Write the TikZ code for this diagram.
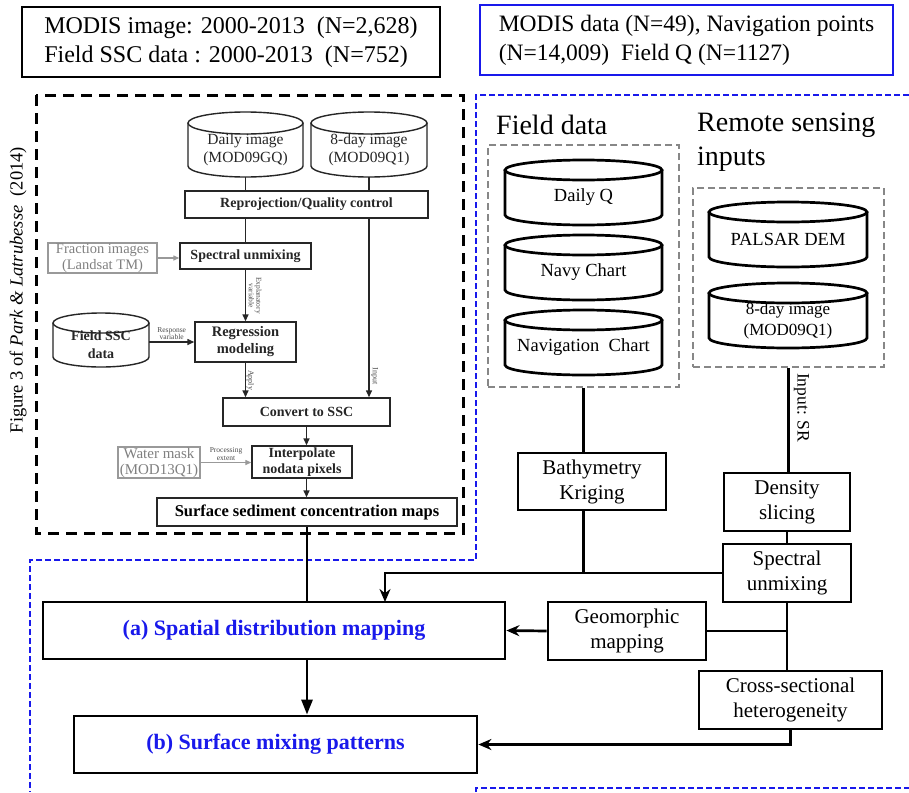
\documentclass[tikz,border=0pt]{standalone}
\usepackage{fontspec}
\setmainfont{Liberation Serif}
\usetikzlibrary{arrows.meta}
\definecolor{lblue}{RGB}{25,25,235}
\definecolor{fgray}{RGB}{135,135,135}
\newcommand\mycyl[8]{%
 \pgfmathsetmacro\cxc{(#2+#4)/2}%
 \pgfmathsetmacro\cxa{(#4-#2)/2}%
 \pgfmathsetmacro\cyt{#3+#6}%
 \pgfmathsetmacro\cyb{#5-#6}%
 \pgfmathsetmacro\cty{(#3+#6+#5)/2}%
 \pgfmathsetmacro\ckx{0.5523*\cxa}%
 \pgfmathsetmacro\cky{#5-#6+0.5523*#6}%
 \node[inner sep=0pt,outer sep=0pt,minimum width={(#4-#2)*1pt},minimum height={(#5-#3)*1pt}] (#1) at (\cxc,{(#3+#5)/2}) {};
 \draw[#7] (#2,\cyt) -- (#2,\cyb) .. controls (#2,\cky) and ({\cxc-\ckx},#5) .. (\cxc,#5) .. controls ({\cxc+\ckx},#5) and (#4,\cky) .. (#4,\cyb) -- (#4,\cyt);
 \draw[#7] (\cxc,\cyt) ellipse [x radius=\cxa, y radius=#6];
 \node[#7,draw=none,align=center,inner sep=0pt] (#1-t) at (\cxc,\cty) {#8};
}
\tikzset{
 fc/.style={draw=black!85, line width=1.4pt, fill=white, inner sep=0pt, font=\fontsize{14.5}{17}\selectfont\bfseries, text=black!85, align=center},
 fcg/.style={draw=black!40, line width=1.4pt, inner sep=0pt, font=\fontsize{14.5}{16}\selectfont, text=black!50, align=center},
 fcyl/.style={draw=black!85, line width=1.4pt, text=black!85, font=\fontsize{15.5}{18.5}\selectfont},
 fcylb/.style={draw=black!85, line width=1.4pt, text=black!85, font=\fontsize{14}{18}\selectfont\bfseries},
 fl/.style={line width=1.4pt, draw=black!85},
 fa/.style={fl, -{Triangle[length=7pt,width=6pt]}},
 fga/.style={line width=1.3pt, draw=black!40, -{Triangle[length=6pt,width=5pt]}},
 tinyl/.style={font=\fontsize{7.5}{7.5}\selectfont, text=black!70, align=center, inner sep=0.5pt},
 rb/.style={draw, line width=2.7pt, inner sep=0pt, align=center, font=\fontsize{21}{25}\selectfont},
 rcyl/.style={draw, line width=2.7pt, font=\fontsize{18.5}{21}\selectfont},
 rl/.style={line width=2.7pt},
 ra/.style={rl, -{Stealth[length=13pt,width=11pt]}},
 rat/.style={rl, -{Triangle[length=15pt,width=11pt]}},
 gdash/.style={draw=fgray, line width=2.6pt, dash pattern=on 7pt off 4pt},
 bdash/.style={draw=lblue, line width=2.8pt, dash pattern=on 6pt off 3pt},
 kdash/.style={draw=black, line width=3pt, dash pattern=on 11pt off 7pt},
 mainb/.style={draw, line width=2.8pt, inner sep=0pt, font=\fontsize{22}{26}\selectfont\bfseries, text=lblue},
}
\begin{document}
\begin{tikzpicture}[x=1pt,y=-1pt]
\useasboundingbox[fill=white] (0,0) rectangle (909,792);

% top boxes
\node[draw, line width=2.8pt, minimum width=418pt, minimum height=70pt, inner sep=0pt, align=left, font=\fontsize{24}{29}\selectfont] (topl) at (231,42) {MODIS image: 2000-2013\ \ (N=2,628)\\Field SSC data : 2000-2013\ \ (N=752)};
\node[draw=lblue, line width=1.8pt, minimum width=413pt, minimum height=70pt, inner sep=0pt, align=left, font=\fontsize{23.5}{29}\selectfont] (topr) at (686.5,40) {MODIS data (N=49), Navigation points\\(N=14,009)\ \ Field Q (N=1127)};

% frames
\draw[kdash] (36,95) rectangle (463,533);
\draw[bdash] (909,95) -- (476,95) -- (476,560) -- (30,560) -- (30,792);
\draw[bdash] (476,792) -- (476,788) -- (909,788);

% rotated caption
\node[rotate=90, font=\fontsize{18.5}{20}\selectfont, inner sep=0pt] (cap) at (18,290) {Figure 3 of \textit{Park \& Latrubesse}\ \ (2014)};

% left flowchart
\mycyl{dimg}{188}{112}{303}{177}{11}{fcyl}{Daily image\\(MOD09GQ)}
\mycyl{eimg}{311}{112}{427}{177}{11}{fcyl}{8-day image\\(MOD09Q1)}
\node[fc, minimum width=243pt, minimum height=27pt, font=\fontsize{14}{16}\selectfont\bfseries] (repro) at (306.5,204.5) {Reprojection/Quality control};
\node[fcg, minimum width=109pt, minimum height=30pt] (frac) at (102.5,258) {Fraction images\\(Landsat TM)};
\node[fc, minimum width=131pt, minimum height=26pt, font=\fontsize{14}{16}\selectfont\bfseries] (spec) at (245.5,256) {Spectral unmixing};
\mycyl{fssc}{53}{313}{149}{367}{10}{fcylb}{Field SSC\\data}
\node[fc, minimum width=101pt, minimum height=40pt] (regr) at (245.5,342) {Regression\\modeling};
\node[fc, minimum width=167pt, minimum height=28pt, font=\fontsize{14}{16}\selectfont\bfseries] (conv) at (306.5,412) {Convert to SSC};
\node[fcg, minimum width=82pt, minimum height=31pt, font=\fontsize{15}{16}\selectfont] (water) at (159,462.5) {Water mask\\(MOD13Q1)};
\node[fc, minimum width=100pt, minimum height=32pt, font=\fontsize{14}{16}\selectfont\bfseries] (interp) at (302,462) {Interpolate\\nodata pixels};
\node[fc, minimum width=300pt, minimum height=28pt, font=\fontsize{16.5}{18}\selectfont\bfseries, text=black] (surf) at (307,512) {Surface sediment concentration maps};

\draw[fl] (dimg.south) -- (dimg.south |- repro.north);
\draw[fl] (eimg.south) -- (eimg.south |- repro.north);
\draw[fl] (repro.south -| spec.north) -- (spec.north);
\draw[fa] (repro.south -| eimg.south) -- (eimg.south |- conv.north) node[pos=0.88, right=1pt, rotate=-90, anchor=south, tinyl, font=\fontsize{8}{8}\selectfont] (inlab) {Input};
\draw[fga] (frac.east) -- (frac.east -| spec.west);
\draw[fa] (spec.south) -- (regr.north) node[midway, right=2pt, rotate=-90, anchor=south, tinyl] (explab) {Explanatory\\variable};
\draw[fa] (fssc.east |- regr.west) -- (regr.west) node[midway, above=1pt, tinyl] (resplab) {Response\\variable};
\draw[fa] (regr.south) -- (regr.south |- conv.north) node[midway, rotate=-90, anchor=south, tinyl, font=\fontsize{8}{8}\selectfont] (applab) {Apply};
\draw[fa] (conv.south) -- (conv.south |- interp.north);
\draw[fga] (water.east) -- (water.east -| interp.west) node[midway, above=1pt, tinyl] (proclab) {Processing\\extent};
\draw[fa] (conv.south |- interp.south) -- (conv.south |- surf.north);

% right side headings
\node[anchor=west, inner sep=0pt, font=\fontsize{28}{30}\selectfont] (fdh) at (496,125) {Field data};
\node[anchor=north west, inner sep=0pt, align=left, font=\fontsize{28}{34}\selectfont] (rsh) at (697,113) {Remote sensing\\inputs};

% field data group
\node[gdash, minimum width=191pt, minimum height=242pt, inner sep=0pt] (fieldbox) at (583.5,266) {};
\mycyl{dq}{505}{160}{662}{225}{10}{rcyl}{Daily Q}
\mycyl{nc}{505}{235}{662}{300}{10}{rcyl}{Navy Chart}
\mycyl{nav}{505}{310}{662}{375}{10}{rcyl}{Navigation\ \ Chart}

% remote sensing group
\node[gdash, minimum width=191pt, minimum height=179pt, inner sep=0pt] (rsbox) at (788.5,277.5) {};
\mycyl{pal}{709}{202}{867}{267}{10}{rcyl}{PALSAR DEM}
\mycyl{e8}{709}{283}{867}{348}{10}{rcyl}{\fontsize{17}{20}\selectfont 8-day image\\\fontsize{17}{20}\selectfont (MOD09Q1)}

% process boxes
\node[rb, minimum width=148pt, minimum height=57pt] (bk) at (592,481.5) {Bathymetry\\Kriging};
\node[rb, minimum width=126pt, minimum height=58pt] (ds) at (787,502) {Density\\slicing};
\node[rb, minimum width=128pt, minimum height=58pt] (su) at (787,573) {Spectral\\unmixing};
\node[rb, minimum width=158pt, minimum height=58pt] (gm) at (627,631) {Geomorphic\\mapping};
\node[rb, minimum width=183pt, minimum height=58pt] (cs) at (790.5,700) {Cross-sectional\\heterogeneity};
\node[mainb, minimum width=462pt, minimum height=57pt] (abox) at (274,630.5) {(a) Spatial distribution mapping};
\node[mainb, minimum width=403pt, minimum height=57pt] (bbox) at (275.5,744.5) {(b) Surface mixing patterns};
\coordinate (atop) at (385,602);

% right connectors
\draw[rl] (fieldbox.south) -- (fieldbox.south |- bk.north);
\draw[rl] (fieldbox.south |- bk.south) -- (fieldbox.south |- su.west);
\draw[ra] (su.west) -| (atop);
\draw[rl] (rsbox.south) -- (rsbox.south |- ds.north) node[pos=0.38, right=4pt, rotate=-90, anchor=south, inner sep=0pt, font=\fontsize{17.5}{18}\selectfont] (srlab) {Input: SR};
\draw[rl] (ds.south) -- (su.north);
\draw[rl] (su.south) -- (su.south |- cs.north);
\draw[rl] (gm.east) -- (su.south |- gm.east);
\draw[ra] (gm.west) -- (abox.east);
\draw[rl] (surf.south) -- (surf.south |- abox.north);
\draw[rat] (abox.south -| surf.south) -- (surf.south |- bbox.north);
\draw[ra] (cs.south) |- (bbox.east);
\end{tikzpicture}
\end{document}
